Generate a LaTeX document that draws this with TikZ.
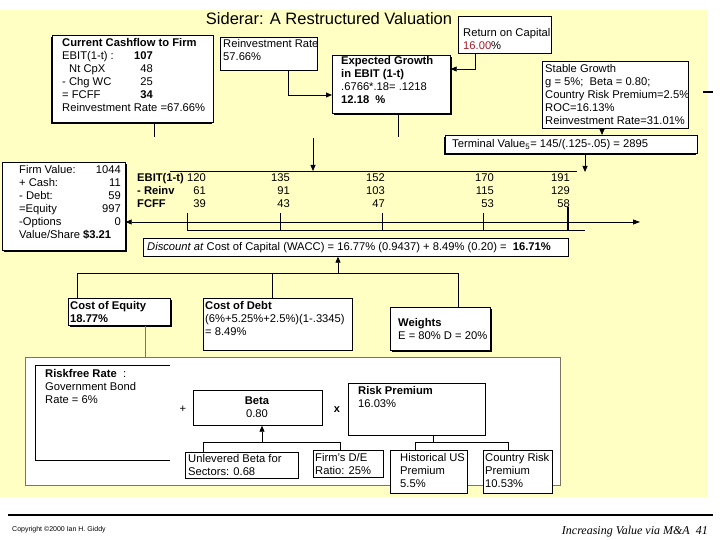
\documentclass[tikz,border=0pt]{standalone}
\usepackage{fontspec}
\setmainfont{Liberation Sans}
\newfontfamily\footserif{Liberation Serif}
\usetikzlibrary{arrows.meta,shadows}
\definecolor{bgyellow}{RGB}{255,255,196}
\definecolor{rocred}{RGB}{165,30,40}
\definecolor{framecol}{RGB}{125,118,95}
\newcommand{\myrows}[2]{\begin{tabular}[t]{@{}#1@{}}#2\end{tabular}}
\tikzset{
  box/.style={draw=black, fill=white, line width=0.7pt, inner sep=0pt, anchor=north west},
  shadR/.style={drop shadow={shadow xshift=1.6pt, shadow yshift=-1.6pt, opacity=1, fill=black}},
  shadL/.style={drop shadow={shadow xshift=-1.8pt, shadow yshift=-1.6pt, opacity=1, fill=black}},
  txt/.style={inner sep=0pt, anchor=base west, font=\fontsize{11.2}{13}\selectfont},
  conn/.style={line width=0.8pt, draw=black},
  arr/.style={conn, -{Triangle[length=6pt,width=5pt]}},
}
\begin{document}
\begin{tikzpicture}[x=1pt,y=-1pt]
\useasboundingbox (0,0) rectangle (720,540);
\fill[white] (0,0) rectangle (720,540);
\fill[bgyellow] (0,10) rectangle (708,497);

% title
\node[inner sep=0pt, anchor=base, font=\fontsize{16.5}{18}\selectfont] (title) at (329,25) {Siderar: A Restructured Valuation};

% top boxes
\node[box, shadL, minimum width=161pt, minimum height=87pt] (ccf) at (52,35) {};
\node[txt] (ccft) at (62,47) {\myrows{l}{\textbf{Current Cashflow to Firm}\\EBIT(1-t) :\\\hspace{7pt}Nt CpX\\- Chg WC\\= FCFF\\Reinvestment Rate =67.66\%}};
\node[txt, anchor=base east] (ccfv) at (153,60) {\myrows{r}{\textbf{107}\\48\\25\\\textbf{34}}};

\node[box, minimum width=97pt, minimum height=33pt] (rr) at (220,37) {};
\node[txt] (rrt) at (223,48) {\myrows{l}{Reinvestment Rate\\57.66\%}};

\node[box, shadR, minimum width=118pt, minimum height=58pt] (eg) at (332,55) {};
\node[txt] (egt) at (341,65) {\myrows{l}{\textbf{Expected Growth}\\\textbf{in EBIT (1-t)}\\.6766*.18= .1218\\\textbf{12.18 \ \%}}};

\node[box, minimum width=93pt, minimum height=37pt] (roc) at (458,16) {};
\node[txt] (roct) at (463,37) {\myrows{l}{Return on Capital\\{\color{rocred}16.00}\%}};

\node[box, minimum width=146pt, minimum height=67pt] (sg) at (542,61) {};
\node[txt] (sgt) at (545,73) {\myrows{l}{Stable Growth\\g = 5\%; \ Beta = 0.80;\\Country Risk Premium=2.5\%\\ROC=16.13\%\\Reinvestment Rate=31.01\%}};

\node[box, shadL, minimum width=252pt, minimum height=18pt] (tv) at (445,135) {};
\node[txt] (tvt) at (452,148) {Terminal Value\textsubscript{5}= 145/(.125-.05) = 2895};

% firm value
\node[box, shadR, minimum width=123pt, minimum height=88pt] (fv) at (2,162) {};
\node[txt] (fvt) at (19,174) {\myrows{l}{Firm Value:\\+ Cash:\\- Debt:\\=Equity\\-Options\\Value/Share \textbf{\$3.21}}};
\node[txt, anchor=base east] (fvv) at (121,174) {\myrows{r}{1044\\11\\59\\997\\0}};

% cash flow table
\coordinate (tl1) at (170,171);
\coordinate (tl2) at (577,171);
\draw[conn] (tl1) -- (tl2);
\node[txt] (tlab) at (137,182) {\myrows{l}{\textbf{EBIT(1-t)}\\\textbf{- Reinv}\\\textbf{FCFF}}};
\node[txt, anchor=base east] (c1v) at (206,182) {\myrows{r}{120\\61\\39}};
\node[txt, anchor=base east] (c2v) at (290,182) {\myrows{r}{135\\91\\43}};
\node[txt, anchor=base east] (c3v) at (385,182) {\myrows{r}{152\\103\\47}};
\node[txt, anchor=base east] (c4v) at (494,182) {\myrows{r}{170\\115\\53}};
\node[txt, anchor=base east] (c5v) at (570,182) {\myrows{r}{191\\129\\58}};

% timeline
\coordinate (tlY) at (0,222);
\coordinate (tEnd) at (640,222);
\draw[conn, {Triangle[length=6pt,width=5pt]}-{Triangle[length=7pt,width=5pt]}] (fv.east |- tlY) -- (tEnd);
\coordinate (bl1) at (187,230);
\coordinate (bl2) at (585,230);
\draw[conn] (bl1) -- (bl2);
\foreach \xx in {187,280,382,483} { \draw[conn] (\xx,213) -- (\xx,230); }
\draw[line width=1.4pt] (568,207) -- (568,230);

% feeding arrows
\coordinate (k1) at (288,0);
\coordinate (k2) at (0,95);
\draw[arr] (rr.south -| k1) |- (eg.west |- k2);
\coordinate (k3) at (475,0);
\coordinate (k4) at (0,69);
\draw[arr] (roc.south -| k3) |- (eg.east |- k4);
\coordinate (k5) at (154,137);
\draw[conn] (ccf.south -| k5) -- (k5);
\coordinate (k6) at (398,137);
\draw[conn] (eg.south -| k6) -- (k6);
\coordinate (a1) at (313,138);
\draw[arr] (a1) -- (a1 |- tl1);
\coordinate (k7) at (602,0);
\draw[arr] (sg.south -| k7) -- (tv.north -| k7);
\coordinate (k8) at (585,172);
\draw[arr] (tv.south -| k8) -- (k8);

% discount box
\node[box, minimum width=425pt, minimum height=18pt] (dc) at (143,238) {};
\node[txt] (dct) at (147,251) {\textit{Discount at} Cost of Capital (WACC) = 16.77\% (0.9437) + 8.49\% (0.20) = \ \textbf{16.71\%}};

% cost boxes
\node[box, shadR, minimum width=102pt, minimum height=27pt] (ce) at (68,298) {};
\node[txt] (cet) at (70,309) {\myrows{l}{\textbf{Cost of Equity}\\\textbf{18.77\%}}};
\node[box, minimum width=149pt, minimum height=52pt] (cd) at (203,298) {};
\node[txt] (cdt) at (205,309) {\myrows{l}{\textbf{Cost of Debt}\\(6\%+5.25\%+2.5\%)(1-.3345)\\= 8.49\%}};
\node[box, shadR, minimum width=100pt, minimum height=43pt] (wt) at (390,307) {};
\node[txt] (wtt) at (398,326) {\myrows{l}{\textbf{Weights}\\E = 80\% D = 20\%}};

\coordinate (b1) at (77,273);
\coordinate (b2) at (272,273);
\coordinate (b3) at (458,273);
\coordinate (b4) at (338,273);
\draw[conn] (ce.north -| b1) -- (b1) -- (b3) -- (wt.north -| b3);
\draw[conn] (cd.north -| b2) -- (b2);
\draw[arr] (b4) -- (dc.south -| b4);

% bottom frame
\node[draw=framecol, fill=white, line width=0.7pt, inner sep=0pt, anchor=north west, minimum width=535pt, minimum height=128pt] (fr) at (25,357) {};
\coordinate (k9) at (145,0);
\draw[framecol, line width=0.7pt] (ce.south -| k9) -- (fr.north -| k9);

% riskfree (open box)
\coordinate (rf1) at (170,365);
\coordinate (rf2) at (35,365);
\coordinate (rf3) at (35,460);
\coordinate (rf4) at (170,460);
\draw[line width=0.7pt] (rf1) -- (rf2) -- (rf3) -- (rf4);
\node[txt] (rft) at (45,377) {\myrows{l}{\textbf{Riskfree Rate}\ \ :\\Government Bond\\Rate = 6\%}};

\node[txt, anchor=base] (plus) at (183,412) {+};
\node[box, minimum width=129pt, minimum height=35pt] (beta) at (193,390) {};
\node[txt, anchor=base] (betat) at (257,404) {\myrows{c}{\textbf{Beta}\\0.80}};
\node[txt, anchor=base, font=\fontsize{11}{13}\selectfont\bfseries] (times) at (337,412) {x};

\node[box, minimum width=137pt, minimum height=52pt] (rp) at (348,383) {};
\node[txt] (rpt) at (358,394) {\myrows{l}{\textbf{Risk Premium}\\16.03\%}};

\node[box, minimum width=113pt, minimum height=26pt] (ub) at (185,452) {};
\node[txt] (ubt) at (188,462) {\myrows{l}{Unlevered Beta for\\Sectors: 0.68}};
\node[box, minimum width=70pt, minimum height=27pt] (fde) at (313,450) {};
\node[txt] (fdet) at (315,461) {\myrows{l}{Firm's D/E\\Ratio: 25\%}};
\node[box, minimum width=77pt, minimum height=43pt] (hu) at (390,450) {};
\node[txt] (hut) at (400,461) {\myrows{l}{Historical US\\Premium\\5.5\%}};
\node[box, minimum width=69pt, minimum height=43pt] (cr) at (483,450) {};
\node[txt] (crt) at (485,461) {\myrows{l}{Country Risk\\Premium\\10.53\%}};

\coordinate (c1) at (203,442);
\coordinate (c2) at (340,442);
\coordinate (c3) at (262,442);
\draw[conn] (ub.north -| c1) -- (c1) -- (c2) -- (fde.north -| c2);
\draw[arr] (c3) -- (beta.south -| c3);
\coordinate (d1) at (415,442);
\coordinate (d2) at (508,442);
\coordinate (d3) at (433,442);
\draw[conn] (hu.north -| d1) -- (d1) -- (d2) -- (cr.north -| d2);
\draw[conn] (rp.south -| d3) -- (d3);

% right dash
\coordinate (rd1) at (703,92);
\coordinate (rd2) at (713,92);
\draw[line width=2.5pt] (rd1) -- (rd2);

% footer
\coordinate (f1) at (8,515);
\coordinate (f2) at (713,515);
\draw[line width=2.5pt] (f1) -- (f2);
\node[inner sep=0pt, anchor=base west, font=\fontsize{7}{8}\selectfont] (copy) at (12,531) {Copyright \textcopyright2000 Ian H. Giddy};
\node[inner sep=0pt, anchor=base east, font=\footserif\itshape\fontsize{12}{14}\selectfont] (foot) at (708,534) {Increasing Value via M\&A \ 41};
\end{tikzpicture}
\end{document}
